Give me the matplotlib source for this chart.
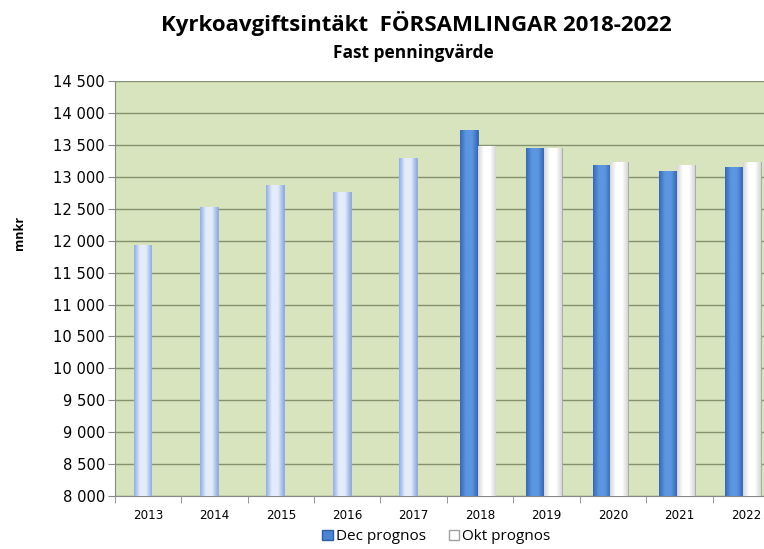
import numpy as np
import matplotlib
matplotlib.use("Agg")
import matplotlib.pyplot as plt
from matplotlib.ticker import FuncFormatter, MultipleLocator
from matplotlib.patches import Patch
from matplotlib.colors import LinearSegmentedColormap

years = ["2013", "2014", "2015", "2016", "2017", "2018", "2019", "2020", "2021", "2022"]
utfall = [11930, 12530, 12880, 12760, 13300]          # 2013-2017
dec_prognos = [13730, 13450, 13180, 13100, 13150]     # 2018-2022
okt_prognos = [13480, 13450, 13230, 13180, 13230]     # 2018-2022

fig = plt.figure(figsize=(7.64, 5.49), dpi=100)
ax = fig.add_axes([0.150, 0.0965, 0.870, 0.7555])
ax.set_facecolor("#d7e4bd")


def shade(bars, dark, light):
    # cylinder-ish horizontal gradient inside each bar
    cmap = LinearSegmentedColormap.from_list("g", [dark, light, light, dark])
    grad = np.linspace(0, 1, 64).reshape(1, -1)
    for b in bars:
        x0, y0 = b.get_x(), b.get_y()
        w, h = b.get_width(), b.get_height()
        im = ax.imshow(grad, cmap=cmap, aspect="auto", zorder=3,
                       extent=[x0, x0 + w, y0, y0 + h])
        im.set_clip_path(b)


n_hist = len(utfall)
x_hist = np.arange(n_hist)
x_prog = np.arange(n_hist, len(years))
w = 0.27
bottom = 8000

b_hist = ax.bar(x_hist - 0.08, np.array(utfall) - bottom, w, bottom=bottom,
                color="#b9cdf0", edgecolor="#8fa6cf", linewidth=0.6, zorder=3)
b_dec = ax.bar(x_prog - w / 2 - 0.04, np.array(dec_prognos) - bottom, w, bottom=bottom,
               color="#4a84d4", edgecolor="#2f5f9e", linewidth=0.6, zorder=3)
b_okt = ax.bar(x_prog + w / 2 - 0.04, np.array(okt_prognos) - bottom, w, bottom=bottom,
               color="#ffffff", edgecolor="#a0a0a0", linewidth=0.6, zorder=3)

shade(b_hist, "#8eaee6", "#e4ecfa")
shade(b_dec, "#3569b8", "#5c96e0")
shade(b_okt, "#d6d6d6", "#ffffff")

ax.set_xlim(-0.5, len(years) - 0.5)
ax.set_ylim(8000, 14500)
ax.yaxis.set_major_locator(MultipleLocator(500))
ax.yaxis.set_major_formatter(FuncFormatter(lambda v, p: f"{int(v):,}".replace(",", " ")))
ax.grid(axis="y", color="#86916f", linewidth=1.0, zorder=1)
ax.set_axisbelow(True)

ax.set_xticks(x_hist.tolist() + x_prog.tolist())
ax.set_xticklabels(years)
ax.set_xticks(np.arange(-0.5, len(years), 1.0), minor=True)
ax.tick_params(axis="x", which="major", length=0, pad=9, labelsize=8.6, colors="#000000")
ax.tick_params(axis="x", which="minor", length=5, color="#888888")
ax.tick_params(axis="y", length=5, color="#888888", labelsize=10.6, pad=2)

for s in ["top", "right"]:
    ax.spines[s].set_visible(False)
for s in ["left", "bottom"]:
    ax.spines[s].set_color("#888888")

fig.text(0.025, 0.575, "mnkr", rotation=90, ha="center", va="center",
         fontsize=9, fontweight="bold", family="Open Sans")

fig.text(0.545, 0.958, "Kyrkoavgiftsintäkt  FÖRSAMLINGAR 2018-2022", ha="center", va="center",
         fontsize=16, fontweight="bold", family="Open Sans")
fig.text(0.541, 0.903, "Fast penningvärde", ha="center", va="center",
         fontsize=12.5, fontweight="bold", family="Open Sans")

handles = [Patch(facecolor="#4a84d4", edgecolor="#2f5f9e"),
           Patch(facecolor="#ffffff", edgecolor="#a0a0a0")]
fig.legend(handles, ["Dec prognos", "Okt prognos"], loc="center", bbox_to_anchor=(0.571, 0.022),
           ncol=2, frameon=False, prop={"family": "Open Sans", "size": 11},
           handlelength=0.7, handleheight=0.7, handletextpad=0.2, columnspacing=1.5)

fig.savefig("out.png", dpi=100)
